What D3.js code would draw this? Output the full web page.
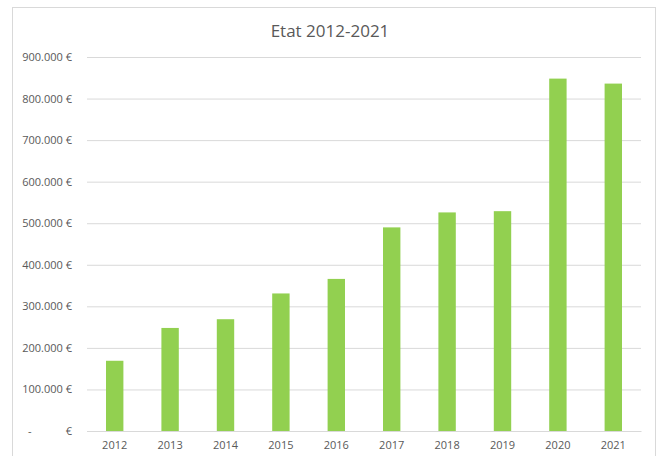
<!DOCTYPE html>
<html>
<head>
<meta charset="utf-8">
<script src="https://cdn.jsdelivr.net/npm/d3@7"></script>
<style>
  body { margin: 0; background: #fff; }
  text { font-family: "Open Sans", "Noto Sans", sans-serif; fill: #595959; }
</style>
</head>
<body>
<div id="chart"></div>
<script>
// years and amounts (euros)
var years = ["2012", "2013", "2014", "2015", "2016", "2017", "2018", "2019", "2020", "2021"];
var amounts = [169000, 248000, 269000, 331000, 366000, 490000, 526000, 529000, 848000, 836000];
var yTicks = [0, 100000, 200000, 300000, 400000, 500000, 600000, 700000, 800000, 900000];

const W = 661, H = 456;
const margin = { top: 57, right: 20, bottom: 25, left: 87 },
    width = 641 - margin.left,
    height = 431 - margin.top;

const svg = d3.select("#chart")
    .append("svg")
    .attr("width", W)
    .attr("height", H);

// chart frame (bottom edge falls outside the picture)
svg.append("rect")
    .attr("x", 12.5).attr("y", 7.5)
    .attr("width", 643).attr("height", 470)
    .attr("fill", "none")
    .attr("stroke", "#d9d9d9");

svg.append("text")
    .attr("x", 330)
    .attr("y", 37)
    .attr("text-anchor", "middle")
    .style("font-size", "17px")
    .text("Etat 2012-2021");

const g = svg.append("g")
    .attr("transform", `translate(${margin.left}, ${margin.top})`);

var x = d3.scaleBand()
    .domain(years)
    .range([0, width])
    .paddingInner(0.686)
    .paddingOuter(0.343);

var y = d3.scaleLinear()
    .domain([0, 900000])
    .range([height, 0]);

// accounting style: zero shows as a dash pushed to the left
var fmt = function (d) {
    if (d === 0) return "-            €";
    return d3.format(",")(d).replace(/,/g, ".") + " €";
};

// gridlines + labels
var yAxis = g.append("g")
    .call(d3.axisLeft(y).tickValues(yTicks).tickSize(-width).tickFormat(fmt).tickPadding(15));
yAxis.select(".domain").remove();
yAxis.selectAll("line").attr("stroke", "#d9d9d9");
yAxis.selectAll("text")
    .style("font-size", "11px")
    .style("white-space", "pre")
    .attr("fill", "#595959");

g.selectAll(".bar")
    .data(amounts)
    .enter()
    .append("rect")
    .attr("class", "bar")
    .attr("x", function (d, i) { return x(years[i]) })
    .attr("width", x.bandwidth())
    .attr("y", function (d) { return y(d) })
    .attr("height", function (d) { return height - y(d) })
    .attr("fill", "#92d050");

var xAxis = g.append("g")
    .attr("transform", "translate(0," + height + ")")
    .call(d3.axisBottom(x).tickSize(0).tickPadding(10));
xAxis.select(".domain").attr("stroke", "#d9d9d9");
xAxis.selectAll("text")
    .style("font-size", "11px")
    .attr("fill", "#595959");
</script>
</body>
</html>
